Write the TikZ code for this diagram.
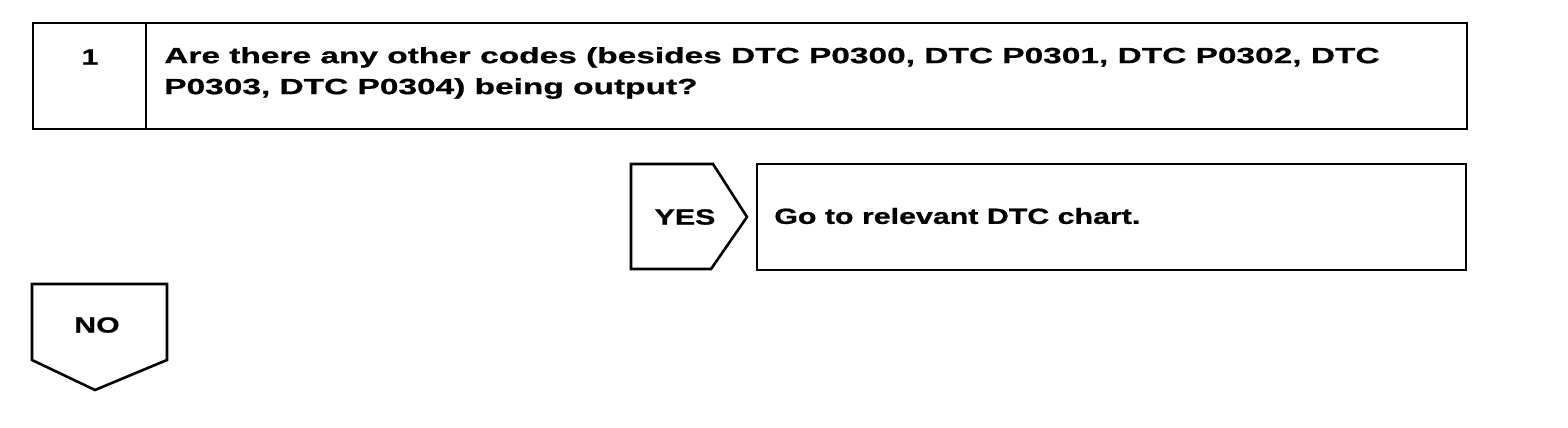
\documentclass[tikz,border=0pt]{standalone}
\usepackage{fontspec}
\setmainfont{Liberation Sans}[FakeStretch=1.38,FakeBold=0.8]
\newfontfamily\questionfont{Liberation Sans}[FakeStretch=1.52,FakeBold=0.8]
\usetikzlibrary{positioning}

\begin{document}
\begin{tikzpicture}[x=0.5pt,y=-0.5pt,line width=1.3pt,font=\fontsize{11}{15.5}\selectfont\bfseries]
	\useasboundingbox (0,0) rectangle (1568,428);
	% step 1 question
	\draw (33,23) rectangle (1467,129);
	\draw (146,23)--(146,129);
	\node (stepnum) at (90,57) {1};
	\node[right,align=left,inner sep=0pt,font=\questionfont\fontsize{11}{15.5}\selectfont\bfseries] (question) at (163,73) {Are there any other codes (besides DTC P0300, DTC P0301, DTC P0302, DTC\\P0303, DTC P0304) being output?};
	% yes branch
	\draw (631,164)--(713,164)--(747,217)--(711,269)--(631,269)--cycle;
	\node (yes) at (685,217) {YES};
	\draw (757,164) rectangle (1466,270);
	\node[right,inner sep=0pt] (gochart) at (773,216) {Go to relevant DTC chart.};
	% no branch
	\draw (32,284)--(167,284)--(167,360)--(95,390)--(32,360)--cycle;
	\node (no) at (97,325) {NO};
\end{tikzpicture}
\end{document}
